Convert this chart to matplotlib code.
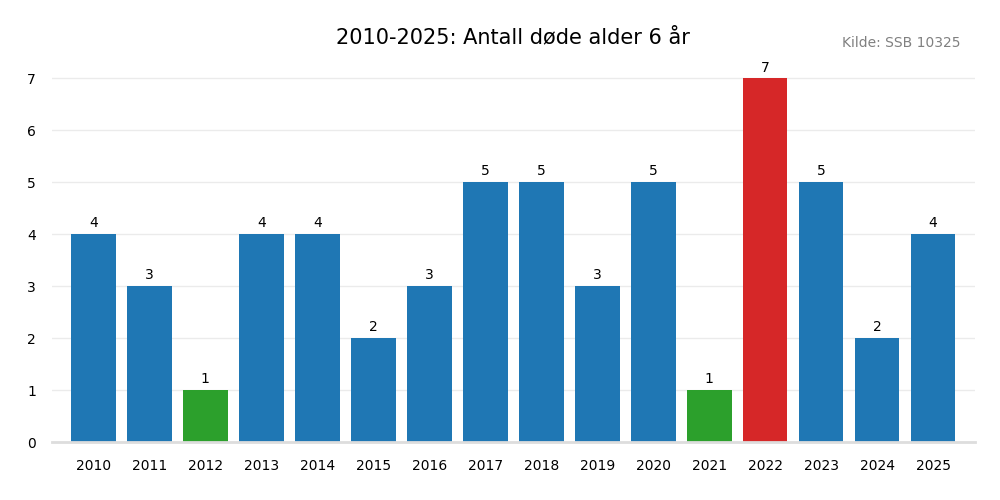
import numpy as np
import matplotlib.pyplot as plt

years = [str(y) for y in range(2010, 2026)]
deaths = [4, 3, 1, 4, 4, 2, 3, 5, 5, 3, 5, 1, 7, 5, 2, 4]
colors = ['#1f77b4', '#1f77b4', '#2ca02c', '#1f77b4', '#1f77b4', '#1f77b4',
          '#1f77b4', '#1f77b4', '#1f77b4', '#1f77b4', '#1f77b4', '#2ca02c',
          '#d62728', '#1f77b4', '#1f77b4', '#1f77b4']

fig = plt.figure(figsize=(10, 5), dpi=100)
ax = fig.add_axes([0.052, 0.116, 0.923, 0.764])

x = np.arange(len(years))
bars = ax.bar(x, deaths, width=0.8, color=colors, zorder=2)
for xi, v in zip(x, deaths):
    ax.text(xi, v + 0.07, str(v), ha='center', va='bottom', fontsize=10)

ax.set_xticks(x)
ax.set_xticklabels(years)
ax.set_xlim(-0.74, len(years) - 0.25)
ax.set_ylim(0, 7.35)
ax.set_yticks(range(0, 8))
ax.tick_params(axis='x', length=0, labelsize=10, pad=12)
ax.tick_params(axis='y', length=0, labelsize=10, pad=11.5)
ax.grid(axis='y', color='#ebebeb', linewidth=1, zorder=0)
for s in ['top', 'right', 'left']:
    ax.spines[s].set_visible(False)
ax.spines['bottom'].set_color('#dddddd')
ax.spines['bottom'].set_linewidth(2)

fig.text(0.513, 0.926, '2010-2025: Antall døde alder 6 år', ha='center', va='center', fontsize=15)
fig.text(0.96, 0.914, 'Kilde: SSB 10325', ha='right', va='center', fontsize=10, color='#808080')

fig.savefig('out.png', dpi=100)
